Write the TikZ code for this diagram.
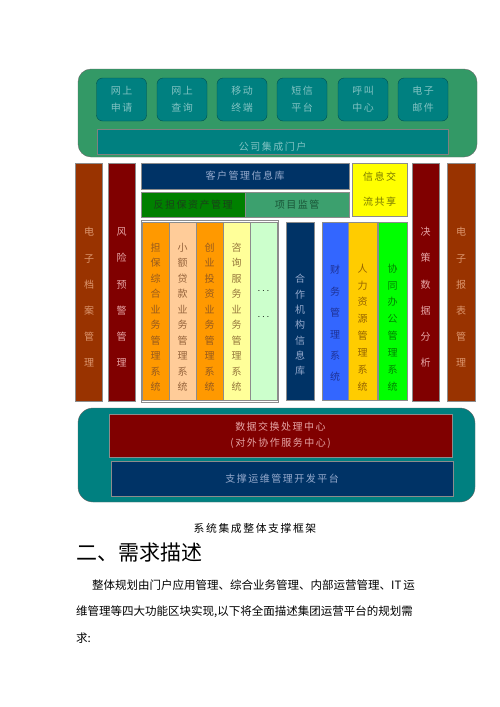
\documentclass[tikz,border=0pt]{standalone}
\usepackage{fontspec}
\setmainfont{Noto Sans CJK SC}
\newfontfamily\diag[LetterSpace=15]{Noto Sans CJK SC}
\usepackage{xcolor}
\usetikzlibrary{positioning}

\definecolor{seagreen}{RGB}{51,153,102}
\definecolor{tealbox}{RGB}{0,128,128}
\definecolor{tealedge}{RGB}{0,80,80}
\definecolor{tealtext}{RGB}{130,195,195}
\definecolor{navy}{RGB}{0,51,102}
\definecolor{navytext}{RGB}{150,170,205}
\definecolor{dkgreen}{RGB}{0,128,0}
\definecolor{dkgreentext}{RGB}{25,65,25}
\definecolor{mdgreen}{RGB}{60,160,110}
\definecolor{mdgreentext}{RGB}{25,85,55}
\definecolor{brightyellow}{RGB}{255,255,0}
\definecolor{yellowtext}{RGB}{120,120,0}
\definecolor{orangebox}{RGB}{255,153,0}
\definecolor{orangetext}{RGB}{150,90,30}
\definecolor{peach}{RGB}{255,204,153}
\definecolor{peachtext}{RGB}{150,100,60}
\definecolor{paleyellow}{RGB}{255,255,153}
\definecolor{paleyellowtext}{RGB}{150,120,60}
\definecolor{palegreen}{RGB}{204,255,204}
\definecolor{royal}{RGB}{51,102,255}
\definecolor{royaltext}{RGB}{30,50,150}
\definecolor{gold}{RGB}{255,204,0}
\definecolor{goldtext}{RGB}{150,100,0}
\definecolor{lime}{RGB}{0,255,0}
\definecolor{limetext}{RGB}{0,130,0}
\definecolor{maroon}{RGB}{128,0,0}
\definecolor{maroontext}{RGB}{230,165,165}
\definecolor{rust}{RGB}{153,51,0}
\definecolor{rusttext}{RGB}{220,150,110}

\begin{document}
\begin{tikzpicture}[
        x=1pt, y=-1pt,
        box/.style={
            rectangle,
            draw=black!45,
            line width=0.4pt,
            inner sep=0pt,
            align=center,
            font=\diag\fontsize{10}{17}\selectfont
        },
        entry/.style={
            box,
            draw=tealedge,
            fill=tealbox,
            text=tealtext,
            rounded corners=6pt,
            minimum width=50pt,
            minimum height=43pt
        },
        tall/.style={box, minimum width=27pt, minimum height=238pt},
        col/.style={box, minimum width=27pt, minimum height=178pt},
        lbl/.style={inner sep=0pt, align=center, font=\diag\fontsize{10}{12}\selectfont},
        vlbl/.style={lbl, font=\rmfamily\fontsize{10}{#1}\selectfont}
    ]

    \fill[white] (0,0) rectangle (500,707);
    \useasboundingbox (0,0) rectangle (500,707);

    % Portal layer
    \node[box, draw=black!60, fill=seagreen, rounded corners=13pt, minimum width=399pt, minimum height=88pt] (menhu) at (277.5,113) {};
    \node[entry] (wssq) at (121.5,99.5) {网上\\申请};
    \node[entry] (wscx) at (182,99.5) {网上\\查询};
    \node[entry] (ydzd) at (242,99.5) {移动\\终端};
    \node[entry] (dxpt) at (302,99.5) {短信\\平台};
    \node[entry] (hjzx) at (363,99.5) {呼叫\\中心};
    \node[entry] (dzyj) at (423,99.5) {电子\\邮件};
    \node[box, draw=black!50, fill=tealbox, minimum width=351pt, minimum height=25pt,
          label={[lbl, text=tealtext, yshift=-5.5pt]center:公司集成门户}] (portal) at (272.5,141.5) {};

    % Left columns
    \node[tall, fill=rust, label={[vlbl=26.2, text=rusttext, yshift=-15.5pt]center:电\\子\\档\\案\\管\\理}] (dangan) at (89,282) {};
    \node[tall, fill=maroon, label={[vlbl=26.2, text=maroontext, yshift=-15.5pt]center:风\\险\\预\\警\\管\\理}] (fengxian) at (121.5,282) {};

    % Business layer
    \node[box, fill=navy, text=navytext, minimum width=208pt, minimum height=26pt] (kehu) at (245,176) {客户管理信息库};
    \node[box, fill=dkgreen, text=dkgreentext, minimum width=104pt, minimum height=25pt] (fandanbao) at (193,204.5) {反担保资产管理};
    \node[box, fill=mdgreen, text=mdgreentext, minimum width=104pt, minimum height=25pt] (xiangmu) at (297,204.5) {项目监管};
    \node[box, fill=brightyellow, text=yellowtext, minimum width=55pt, minimum height=53pt,
          font=\diag\fontsize{10}{25}\selectfont] (xinxi) at (379.5,189.5) {信息交\\流共享};

    \node[box, minimum width=137pt, minimum height=182pt] (yewu) at (209.5,311) {};
    \node[col, fill=orangebox, label={[vlbl=15.5, text=orangetext, yshift=-6pt]center:担\\保\\综\\合\\业\\务\\管\\理\\系\\统}] (danbao) at (155.5,311) {};
    \node[col, fill=peach, label={[vlbl=15.5, text=peachtext, yshift=-6pt]center:小\\额\\贷\\款\\业\\务\\管\\理\\系\\统}] (xiaoe) at (182.5,311) {};
    \node[col, fill=orangebox, label={[vlbl=15.5, text=orangetext, yshift=-6pt]center:创\\业\\投\\资\\业\\务\\管\\理\\系\\统}] (chuangye) at (209.5,311) {};
    \node[col, fill=paleyellow, label={[vlbl=15.5, text=paleyellowtext, yshift=-6pt]center:咨\\询\\服\\务\\业\\务\\管\\理\\系\\统}] (zixun) at (236.5,311) {};
    \node[col, fill=palegreen, label={[vlbl=26, yshift=7pt]center:$\cdots$\\$\cdots$}] (qita) at (263.5,311) {};

    % Internal operation
    \node[col, minimum width=28pt, fill=navy, label={[vlbl=15.3, text=navytext, yshift=-14pt]center:合\\作\\机\\构\\信\\息\\库}] (hezuo) at (300,311) {};
    \node[col, minimum width=26pt, fill=royal, label={[vlbl=21.4, text=royaltext, yshift=-12.5pt]center:财\\务\\管\\理\\系\\统}] (caiwu) at (335,311) {};
    \node[col, minimum width=29pt, fill=gold, label={[vlbl=16.9, text=goldtext, yshift=-16.5pt]center:人\\力\\资\\源\\管\\理\\系\\统}] (renli) at (362.5,311) {};
    \node[col, minimum width=29pt, fill=lime, label={[vlbl=16.9, text=limetext, yshift=-16.5pt]center:协\\同\\办\\公\\管\\理\\系\\统}] (xietong) at (392.5,311) {};

    % Right columns
    \node[tall, fill=maroon, label={[vlbl=26.2, text=maroontext, yshift=-15.5pt]center:决\\策\\数\\据\\分\\析}] (juece) at (425.5,282) {};
    \node[tall, minimum width=28pt, fill=rust, label={[vlbl=26.2, text=rusttext, yshift=-15.5pt]center:电\\子\\报\\表\\管\\理}] (baobiao) at (461,282) {};

    % Support layer
    \node[box, draw=black!60, fill=tealbox, rounded corners=15pt, minimum width=397pt, minimum height=94pt] (zhicheng) at (276.5,455) {};
    \node[box, fill=maroon, text=maroontext, minimum width=343pt, minimum height=43pt,
          font=\diag\fontsize{10}{16}\selectfont] (jiaohuan) at (280.5,435.5) {数据交换处理中心\\(对外协作服务中心)};
    \node[box, fill=navy, text=navytext, minimum width=342pt, minimum height=35pt] (yunwei) at (282,478.5) {支撑运维管理开发平台};

    % Caption and text
    \node[inner sep=0pt, font=\diag\fontsize{10.8}{13}\selectfont] (caption) at (255,528) {系统集成整体支撑框架};
    \node[inner sep=0pt, anchor=west, font=\fontsize{21}{25}\selectfont] (heading) at (76,553) {二、需求描述};
    \node[inner sep=0pt, anchor=west, align=left, font=\fontsize{11.5}{26.5}\selectfont] (para) at (76,611.5)
        {\hspace*{16pt}整体规划由门户应用管理、综合业务管理、内部运营管理、IT\,运\\维管理等四大功能区块实现,以下将全面描述集团运营平台的规划需\\求:};

\end{tikzpicture}
\end{document}
